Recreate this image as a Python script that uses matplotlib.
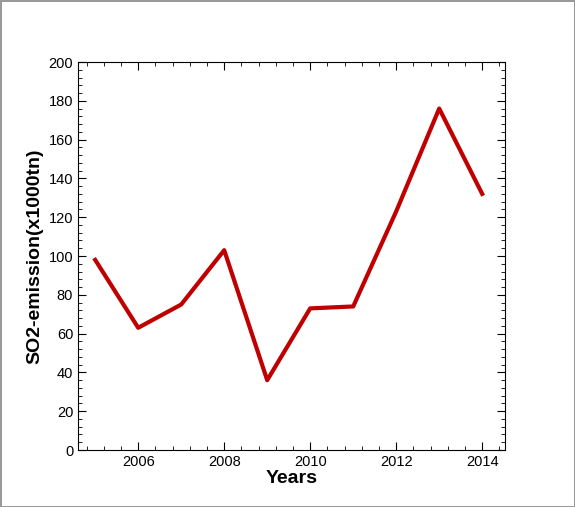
import matplotlib
matplotlib.use("Agg")
import matplotlib.pyplot as plt
from matplotlib.ticker import MultipleLocator

plt.rcParams['font.family'] = ['Liberation Sans', 'DejaVu Sans']

years = [2005, 2006, 2007, 2008, 2009, 2010, 2011, 2012, 2013, 2014]
so2 = [98, 63, 75, 103, 36, 73, 74, 123, 176, 132]

fig = plt.figure(figsize=(5.75, 5.07), dpi=100, edgecolor="#999999", linewidth=1)
ax = fig.add_axes([78/575, 1-450/507, (505-78)/575, (450-62)/507])
ax.plot(years, so2, color="#c00000", lw=3)
ax.set_xlim(2004.6, 2014.53)
ax.set_ylim(0, 200)
ax.xaxis.set_major_locator(MultipleLocator(2))
ax.xaxis.set_minor_locator(MultipleLocator(0.4))
ax.yaxis.set_major_locator(MultipleLocator(20))
ax.yaxis.set_minor_locator(MultipleLocator(4))
ax.tick_params(which="both", direction="in", top=True, right=True, labelsize=10.5)
ax.tick_params(which="major", length=6)
ax.tick_params(which="minor", length=3)
ax.set_xlabel("Years", fontsize=14, fontweight="bold", labelpad=1)
ax.set_ylabel("SO2-emission(x1000tn)", fontsize=14, fontweight="bold")
fig.savefig("out.png", dpi=100, edgecolor=fig.get_edgecolor())
